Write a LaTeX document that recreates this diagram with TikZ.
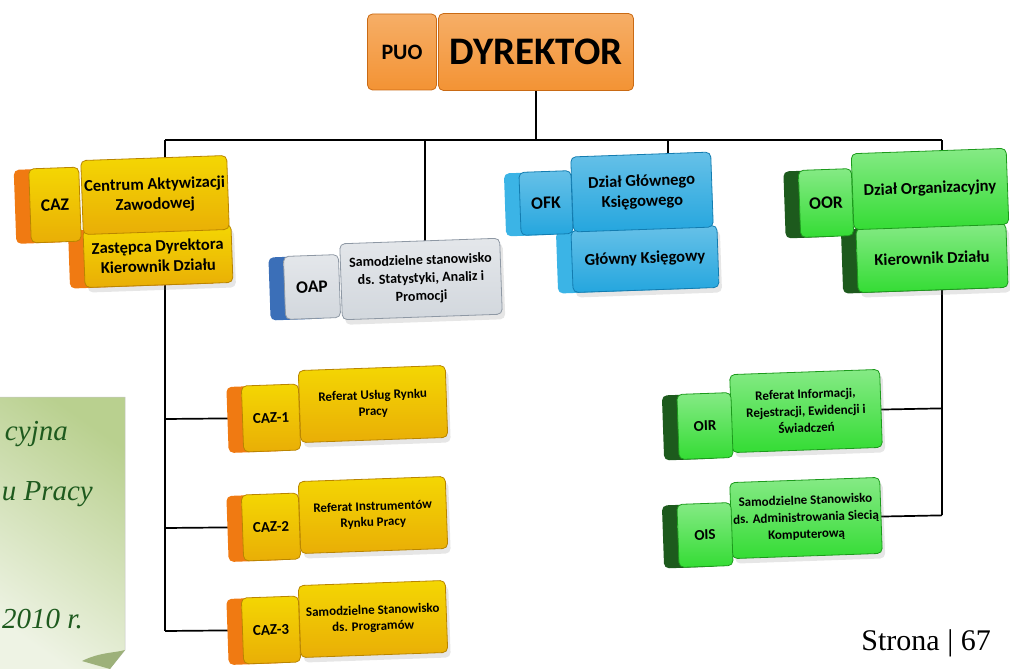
\documentclass[tikz,border=0pt]{standalone}
\usepackage{fontspec}
\setmainfont{Carlito}
\newfontfamily\pagefont{Liberation Serif}
\usetikzlibrary{positioning, shadows, backgrounds}

\definecolor{dyrfill}{HTML}{F39334}
\definecolor{dyrdraw}{HTML}{C96A14}
\definecolor{cazfill}{HTML}{E9AE06}
\definecolor{cazdraw}{HTML}{B98500}
\definecolor{cazside}{HTML}{F07A12}
\definecolor{oapfill}{HTML}{D2D7DD}
\definecolor{oapdraw}{HTML}{8E98A4}
\definecolor{oapside}{HTML}{3B6FB8}
\definecolor{ofkfill}{HTML}{25A6DE}
\definecolor{ofkdraw}{HTML}{137CB0}
\definecolor{ofkside}{HTML}{3BB4E6}
\definecolor{oorfill}{HTML}{34DC34}
\definecolor{oordraw}{HTML}{1C9A1C}
\definecolor{oorside}{HTML}{1D5A1D}
\definecolor{notedark}{HTML}{B9D08F}
\definecolor{notelight}{HTML}{EEF3E4}
\definecolor{notetext}{HTML}{1E5A1E}

\tikzset{
  conn/.style={line width=1.7pt, black},
  box/.style={rounded corners=5pt, line width=0.8pt, align=center, inner sep=1pt},
  tilt/.style={rotate=2},
  side/.style={general shadow={fill=#1, shadow xshift=-15pt, shadow yshift=-1pt}},
  soft/.style={drop shadow={opacity=0.2, shadow xshift=3pt, shadow yshift=-5pt}},
  dyrbox/.style={box, draw=dyrdraw, top color=dyrfill!75!white, bottom color=dyrfill},
  cazbox/.style={box, tilt, draw=cazdraw, top color=cazfill!50!yellow, bottom color=cazfill},
  oapbox/.style={box, tilt, draw=oapdraw, top color=oapfill!60!white, bottom color=oapfill},
  ofkbox/.style={box, tilt, draw=ofkdraw, top color=ofkfill!70!white, bottom color=ofkfill},
  oorbox/.style={box, tilt, draw=oordraw, top color=oorfill!60!white, bottom color=oorfill},
  bigtext/.style={font=\bfseries\fontsize{16.5}{20}\selectfont},
  subtext/.style={font=\bfseries\fontsize{13}{16}\selectfont},
  smalltext/.style={font=\bfseries\fontsize{13}{17}\selectfont},
  code/.style={font=\bfseries\fontsize{17.5}{17.5}\selectfont},
  subcode/.style={font=\bfseries\fontsize{15}{15}\selectfont},
  notetxt/.style={font=\pagefont\itshape\fontsize{29}{29}\selectfont, text=notetext, anchor=base east, inner sep=0pt}
}

\begin{document}
\begin{tikzpicture}[x=1pt, y=-1pt]

    \useasboundingbox (0,0) rectangle (1010,669);
    \clip (0,0) rectangle (1010,669);

    % --- Note on the left ---
    \shade[top color=notedark, bottom color=notelight, shading angle=-35, draw=gray!45, line width=0.5pt]
      (-2,397) -- (125,397) -- (125,650) -- (108,671) -- (-2,671) -- cycle;
    \fill[notedark!85!black] (82,661) .. controls (100,652) and (115,653) .. (125,650) -- (110,669) -- cycle;
    \node[notetxt] (notea) at (68,440) {cyjna};
    \node[notetxt] (noteb) at (93,500) {u Pracy};
    \node[notetxt] (notec) at (83,628) {2010 r.};

    % --- Director ---
    \node[dyrbox, minimum width=69pt, minimum height=76pt, font=\bfseries\fontsize{22}{22}\selectfont] (puo) at (402,52) {PUO};
    \node[dyrbox, minimum width=195pt, minimum height=77pt, font=\bfseries\fontsize{39}{39}\selectfont] (dyr) at (536,52) {DYREKTOR};

    % --- CAZ ---
    \node[cazbox, side=cazside, soft, bigtext, minimum width=148pt, minimum height=58pt] (cazhead) at (158,256) {Zastępca Dyrektora\\Kierownik Działu};
    \node[cazbox, bigtext, minimum width=146pt, minimum height=74pt] (caz) at (155,195) {Centrum Aktywizacji\\Zawodowej};
    \node[cazbox, side=cazside, code, minimum width=50pt, minimum height=74pt] (cazcode) at (55,205) {CAZ};

    % --- OAP ---
    \node[oapbox, soft, font=\bfseries\fontsize{14}{18}\selectfont, minimum width=160pt, minimum height=76pt] (oap) at (421,279) {Samodzielne stanowisko\\ds. Statystyki, Analiz i\\Promocji};
    \node[oapbox, side=oapside, code, minimum width=55pt, minimum height=63pt] (oapcode) at (312,287) {OAP};

    % --- OFK ---
    \node[ofkbox, side=ofkside, soft, bigtext, minimum width=146pt, minimum height=62pt] (ksieg) at (645,259) {Główny Księgowy};
    \node[ofkbox, bigtext, minimum width=140pt, minimum height=75pt] (ofk) at (642,192) {Dział Głównego\\Księgowego};
    \node[ofkbox, side=ofkside, code, minimum width=52pt, minimum height=63pt] (ofkcode) at (546,203) {OFK};

    % --- OOR ---
    \node[oorbox, side=oorside, soft, bigtext, minimum width=150pt, minimum height=64pt] (kier) at (932,258) {Kierownik Działu};
    \node[oorbox, bigtext, minimum width=155pt, minimum height=76pt] (oor) at (930,189) {Dział Organizacyjny};
    \node[oorbox, side=oorside, code, minimum width=53pt, minimum height=67pt] (oorcode) at (826,203) {OOR};

    % --- CAZ units ---
    \node[cazbox, soft, subtext, minimum width=147pt, minimum height=72pt] (caz1) at (373,404) {Referat Usług Rynku\\Pracy};
    \node[cazbox, side=cazside, subcode, minimum width=57pt, minimum height=66pt] (caz1code) at (271,418) {CAZ-1};
    \node[cazbox, soft, subtext, minimum width=147pt, minimum height=72pt] (caz2) at (373,515) {Referat Instrumentów\\Rynku Pracy};
    \node[cazbox, side=cazside, subcode, minimum width=57pt, minimum height=66pt] (caz2code) at (271,527) {CAZ-2};
    \node[cazbox, soft, subtext, minimum width=147pt, minimum height=72pt] (caz3) at (373,619) {Samodzielne Stanowisko\\ds. Programów};
    \node[cazbox, side=cazside, subcode, minimum width=57pt, minimum height=66pt] (caz3code) at (271,630) {CAZ-3};

    % --- OOR units ---
    \node[oorbox, soft, smalltext, minimum width=150pt, minimum height=78pt] (oir) at (806,411) {Referat Informacji,\\Rejestracji, Ewidencji i\\Świadczeń};
    \node[oorbox, side=oorside, subcode, minimum width=54pt, minimum height=65pt] (oircode) at (705,426) {OIR};
    \node[oorbox, soft, smalltext, minimum width=150pt, minimum height=76pt] (ois) at (806,518) {Samodzielne Stanowisko\\ds. Administrowania Siecią\\Komputerową};
    \node[oorbox, side=oorside, subcode, minimum width=54pt, minimum height=63pt] (oiscode) at (705,535) {OIS};

    % --- Page number ---
    \node[font=\pagefont\fontsize{30}{30}\selectfont, anchor=base east, inner sep=0pt] (page) at (991,650) {Strona | 67};

    % --- Connectors ---
    \coordinate (busL) at (165,140);
    \coordinate (busR) at (942,140);
    \coordinate (tapoap) at (425,140);
    \coordinate (tapofk) at (668,140);
    \begin{scope}[on background layer]
      \draw[conn] (dyr.south) -- (dyr.south |- busL);
      \draw[conn] (busL) -- (busR);
      \draw[conn] (busL) -- (busL |- caz.center);
      \draw[conn] (tapoap) -- (tapoap |- oap.center);
      \draw[conn] (tapofk) -- (tapofk |- ofk.center);
      \draw[conn] (busR) -- (busR |- oor.center);
      % left column
      \draw[conn] (busL |- cazhead.center) -- (busL |- caz3code.west);
      \foreach \n in {caz1code, caz2code, caz3code}
        \draw[conn] (busL |- \n.west) -- (\n.center);
      % right column
      \draw[conn] (busR |- kier.center) -- (busR |- ois.east);
      \foreach \n in {oir, ois}
        \draw[conn] (\n.center) -- (busR |- \n.east);
    \end{scope}

\end{tikzpicture}
\end{document}
